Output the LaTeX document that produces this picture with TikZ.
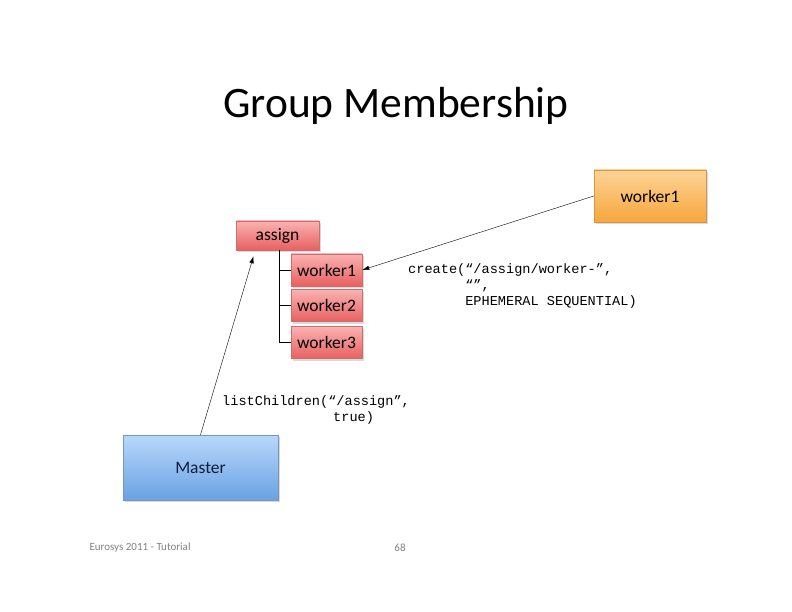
\documentclass[tikz,border=0pt]{standalone}
\usepackage{fontspec}
\setmainfont{Carlito}
\setmonofont{Liberation Mono}
\usetikzlibrary{positioning,calc,shadows,arrows.meta}
\definecolor{redtop}{RGB}{250,178,178}
\definecolor{redbot}{RGB}{232,96,96}
\definecolor{redrim}{RGB}{205,110,110}
\definecolor{orgtop}{RGB}{253,212,150}
\definecolor{orgbot}{RGB}{247,166,60}
\definecolor{orgrim}{RGB}{215,150,70}
\definecolor{bluetop}{RGB}{184,216,250}
\definecolor{bluebot}{RGB}{106,162,228}
\definecolor{bluerim}{RGB}{120,150,190}
\definecolor{navy}{RGB}{16,30,60}

\begin{document}
\begin{tikzpicture}[x=1pt, y=-1pt,
        box/.style={draw=#1rim, line width=0.5pt, top color=#1top, bottom color=#1bot,
          font=\fontsize{17.5}{21}\selectfont,
          drop shadow={shadow xshift=1.5pt, shadow yshift=-2pt, opacity=0.3}},
        znode/.style={box=red, minimum width=71pt, minimum height=32pt},
        call/.style={font=\fontsize{13.6}{16}\ttfamily, align=left, inner sep=0pt, anchor=north west},
        link/.style={-{Latex[length=7pt, width=4.5pt]}, thin, black}]
        \useasboundingbox (0,0) rectangle (792,612);
        \node (title) at (396,106) {\fontsize{43.5}{52}\selectfont Group Membership};
        % znodes
        \node[znode, minimum width=83pt, minimum height=29pt] (assign) at (277.5,235.5) {assign};
        \node[znode] (w1) at (326.5,270) {worker1};
        \node[znode] (w2) at (326.5,305.5) {worker2};
        \node[znode] (w3) at (326.5,342.5) {worker3};
        \coordinate (trunk) at (279,250);
        \draw[black] (trunk) |- (w3.west);
        \foreach \w in {w1, w2} {
          \draw[black] (\w.west -| trunk) -- (\w.west);
        };
        % clients
        \node[box=org, minimum width=112pt, minimum height=52pt] (client) at (650,196) {worker1};
        \node[box=blue, text=navy, minimum width=155pt, minimum height=65pt] (master) at (200.5,467.5) {Master};
        \draw[link] (client.west) -- (w1.east);
        \draw[link] (master.north) -- ($(assign.south)+(-24,6)$);
        % calls
        \node[call] (create) at (408,263) {create(“/assign/worker-”,\\
          \phantom{create(}“”,\\
          \phantom{create(}EPHEMERAL SEQUENTIAL)};
        \node[call] (list) at (222,395) {listChildren(“/assign”,\\
          \hspace*{111pt}true)};
        % footer
        \node[gray, font=\fontsize{11}{13}\selectfont, anchor=west] (event) at (86,548) {Eurosys 2011 - Tutorial};
        \node[gray, font=\fontsize{11}{13}\selectfont] (page) at (400,548) {68};
\end{tikzpicture}
\end{document}
